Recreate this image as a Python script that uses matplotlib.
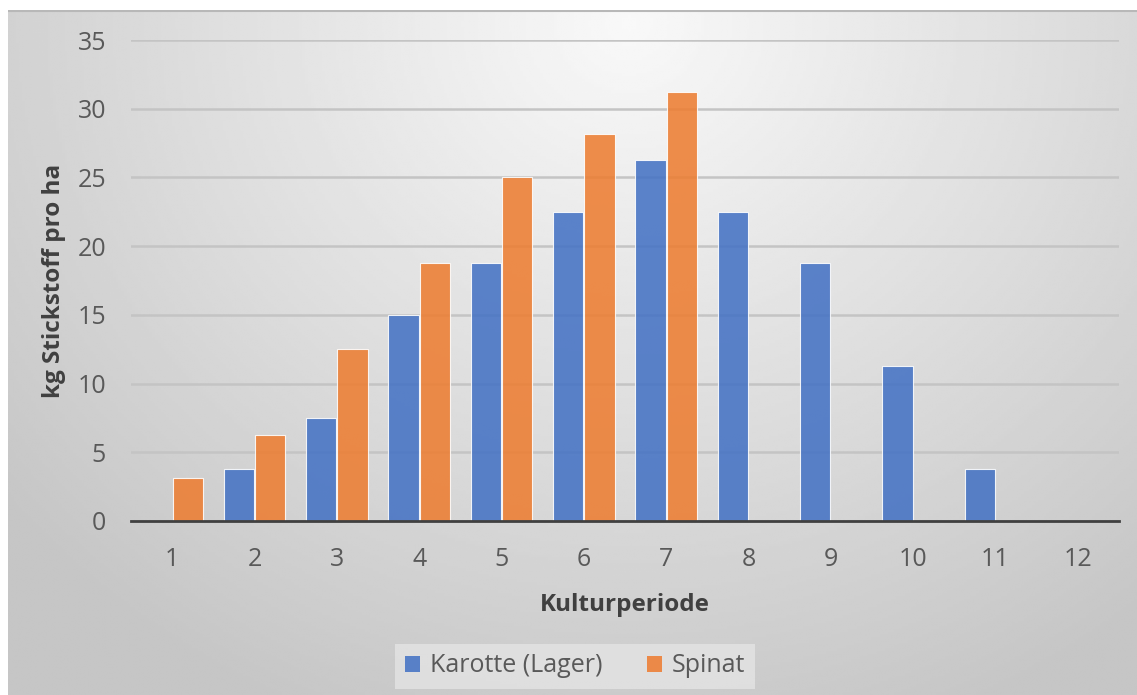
import numpy as np
import matplotlib.pyplot as plt
from matplotlib.patches import Patch

# daten
perioden = [1, 2, 3, 4, 5, 6, 7, 8, 9, 10, 11, 12]
karotte = [0, 3.75, 7.5, 15, 18.75, 22.5, 26.25, 22.5, 18.75, 11.25, 3.75, 0]
spinat = [3.125, 6.25, 12.5, 18.75, 25, 28.125, 31.25, 0, 0, 0, 0, 0]
serien = ['Karotte (Lager)', 'Spinat']
yticks = [0, 5, 10, 15, 20, 25, 30, 35]

plt.rcParams['font.family'] = ['Open Sans', 'DejaVu Sans']

W, H = 1137, 695
fig = plt.figure(figsize=(W / 100, H / 100), dpi=100)
fig.patch.set_facecolor('white')

# hintergrund mit radialem verlauf
bg = fig.add_axes([8 / W, 0, 1 - 8 / W, 1 - 10 / H])
bg.set_axis_off()
gx, gy = np.meshgrid(np.linspace(0, 1, 400), np.linspace(0, 1, 250))
d = np.sqrt(((gx - 0.55) / 0.72) ** 2 + ((gy - 0.02) / 1.1) ** 2)
d = np.clip(d, 0, 1)
grau = 0.975 - 0.2 * d
bg.imshow(grau, cmap='gray', vmin=0, vmax=1, aspect='auto', interpolation='bilinear')
bg.plot([0, 399], [0.3, 0.3], color='#b8b8b8', lw=1.5)
bg.set_xlim(0, 399)
bg.set_ylim(249, 0)

ax = fig.add_axes([131 / W, 1 - 521 / H, (1119 - 131) / W, (521 - 40) / H])
ax.set_facecolor('none')

x = np.array(perioden)
bw = 0.37
blau = '#4472C4'
orange = '#ED7D31'
ax.bar(x - bw / 2 - 0.005, karotte, width=bw, color=blau, alpha=0.87,
       edgecolor=(1, 1, 1, 0.5), linewidth=0.8, zorder=3)
ax.bar(x + bw / 2 + 0.005, spinat, width=bw, color=orange, alpha=0.87,
       edgecolor=(1, 1, 1, 0.5), linewidth=0.8, zorder=3)

ax.set_xlim(0.5, 12.5)
ax.set_ylim(0, 35)
ax.set_xticks(perioden)
ax.set_yticks(yticks)
ax.tick_params(length=0, labelsize=18, labelcolor='#595959')
ax.tick_params(axis='x', pad=19)
ax.tick_params(axis='y', pad=18)
ax.grid(axis='y', color='#c4c4c4', lw=1.8, zorder=1)
for s in ['top', 'right', 'left']:
    ax.spines[s].set_visible(False)
ax.spines['bottom'].set_color('#404040')
ax.spines['bottom'].set_linewidth(2)
ax.spines['bottom'].set_zorder(4)

ax.set_xlabel('Kulturperiode', fontsize=17.5, fontweight='bold', color='#404040', labelpad=15)
ax.set_ylabel('kg Stickstoff pro ha', fontsize=17.5, fontweight='bold', color='#404040', labelpad=8)

handles = [Patch(facecolor=blau, alpha=0.87), Patch(facecolor=orange, alpha=0.87)]
leg = fig.legend(handles, serien, loc='center', bbox_to_anchor=(575 / W, 1 - 666 / H),
                 ncol=2, fontsize=18, frameon=True, fancybox=False,
                 handlelength=0.6, handleheight=0.6, handletextpad=0.4,
                 columnspacing=1.8, borderpad=0.4, borderaxespad=0)
leg.get_frame().set_facecolor('#e4e4e4')
leg.get_frame().set_edgecolor('none')
for t in leg.get_texts():
    t.set_color('#595959')

fig.savefig('out.png', dpi=100)
